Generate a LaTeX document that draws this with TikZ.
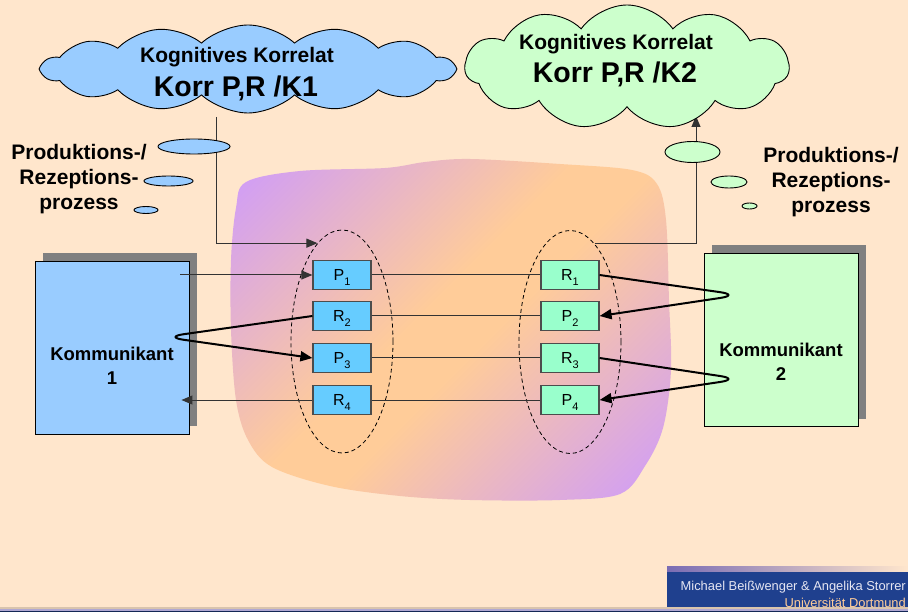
\documentclass[tikz,border=0pt]{standalone}
\usepackage{fontspec}
\setmainfont{Liberation Sans}
\usetikzlibrary{arrows.meta,calc,positioning,shapes.geometric,shapes.symbols,shadows}

\definecolor{bgpeach}{HTML}{FFE6CC}
\definecolor{cloudblue}{HTML}{99CCFF}
\definecolor{cloudgreen}{HTML}{CCFFCC}
\definecolor{boxblue}{HTML}{66CCFF}
\definecolor{boxmint}{HTML}{99FFCC}
\definecolor{blobpurple}{HTML}{CC99FF}
\definecolor{bloborange}{HTML}{FFCC99}
\definecolor{shadowgray}{HTML}{808080}
\definecolor{footblue}{HTML}{1F408E}
\definecolor{footlav}{HTML}{7A6CB4}
\definecolor{footwhite}{HTML}{E6E6F2}
\definecolor{footorange}{HTML}{FFCC99}

\pgfdeclarehorizontalshading{blobshading}{100bp}{color(0bp)=(blobpurple); color(14bp)=(blobpurple); color(46bp)=(bloborange); color(54bp)=(bloborange); color(86bp)=(blobpurple); color(100bp)=(blobpurple)}

\newcommand{\lowidx}[1]{\raisebox{-4.5pt}{\fontsize{11}{11}\selectfont #1}}

\begin{document}
\begin{tikzpicture}[x=1pt,y=-1pt,
    thinline/.style={draw=black!80,line width=1pt},
    tipped/.style={-{Triangle[length=11pt,width=9pt]}},
    loopline/.style={draw=black,line width=2pt,rounded corners=20pt,-{Triangle[length=12pt,width=10pt]}},
    smallbox/.style={draw=black!70,line width=1.2pt,minimum width=58pt,minimum height=29pt,
      inner sep=0pt,text height=11.5pt,text depth=0pt,font=\fontsize{16}{18}\selectfont},
    kommbox/.style={draw=black,line width=0.9pt,minimum width=154pt,minimum height=173pt,inner sep=0pt,
      drop shadow={shadow xshift=8pt,shadow yshift=8pt,opacity=1,fill=shadowgray}},
    kommtext/.style={align=center,font=\bfseries\fontsize{18.5}{24}\selectfont},
    sidetext/.style={align=center,font=\bfseries\fontsize{21}{25}\selectfont},
    cloudbox/.style={cloud,cloud ignores aspect,draw=black,line width=0.9pt,inner sep=0pt},
    bubble/.style={ellipse,draw=black,line width=0.9pt,inner sep=0pt},
    grouping/.style={ellipse,draw=black,line width=0.8pt,dash pattern=on 4pt off 3pt,inner sep=0pt,
      minimum width=102pt,minimum height=223pt}]
  \useasboundingbox (0,0) rectangle (908,612);
  \fill[bgpeach] (0,0) rectangle (908,612);

  % --- shared situation (blob) ---
  \shade[shading=blobshading,shading angle=-45]
    plot[smooth cycle,tension=0.55] coordinates {(246,182) (300,171) (385,168) (425,162) (470,159)
      (560,164) (632,170) (657,184) (666,220) (669,300) (671,370) (663,428) (645,466) (620,494)
      (560,500) (470,500) (400,496) (330,486) (272,467) (248,440) (236,400) (231,330) (231,260)
      (236,208)};

  % --- groupings ---
  \node[grouping] (ellL) at (342,341.5) {};
  \node[grouping] (ellR) at (570,342) {};

  % --- communicants ---
  \node[kommbox,fill=cloudblue] (komm1) at (112,347.5) {};
  \node[kommtext] (komm1lab) at (112,366) {Kommunikant\\1};
  \node[kommbox,fill=cloudgreen] (komm2) at (781,340) {};
  \node[kommtext] (komm2lab) at (781,362) {Kommunikant\\2};

  % --- utterances ---
  \foreach \nm/\ltr/\k/\yy in {lp1/P/1/275,lr2/R/2/316,lp3/P/3/358,lr4/R/4/400}
    \node[smallbox,fill=boxblue] (\nm) at (342,\yy) {\ltr\lowidx{\k}};
  \foreach \nm/\ltr/\k/\yy in {rr1/R/1/275,rp2/P/2/316,rr3/R/3/358,rp4/P/4/400}
    \node[smallbox,fill=boxmint] (\nm) at (570,\yy) {\ltr\lowidx{\k}};

  % --- connectors ---
  \draw[thinline,tipped] ($(komm1.east |- lp1)+(-9,0)$) -- (lp1.west);
  \draw[thinline] (lp1) -- (rr1);
  \draw[thinline] (lr2) -- (rp2);
  \draw[thinline] (lp3) -- (rr3);
  \draw[thinline] (lr4) -- (rp4);
  \draw[thinline,tipped] (lr4.west) -- ($(komm1.east |- lr4)+(-8,0)$);
  \coordinate (turnA) at (740,295);
  \coordinate (turnB) at (164,337);
  \coordinate (turnC) at (740,379);
  \draw[loopline] (rr1.east) -- (turnA) -- (rp2.east);
  \draw[loopline] (lr2.west) -- (turnB) -- (lp3.west);
  \draw[loopline] (rr3.east) -- (turnC) -- (rp4.east);

  \coordinate (corrAfoot) at (216,117);
  \coordinate (corrBfoot) at (696,116);
  \draw[thinline,tipped] (corrAfoot) |- (ellL.104);
  \draw[thinline,tipped] (ellR.76) -| (corrBfoot);

  % --- cognitive correlates ---
  \node[cloudbox,fill=cloudblue,cloud puffs=14,cloud puff arc=85,minimum width=412pt,minimum height=88pt]
    (cloudA) at (248,69) {};
  \node[cloudbox,fill=cloudgreen,cloud puffs=11,cloud puff arc=110,minimum width=324pt,minimum height=124pt]
    (cloudB) at (627,67) {};
  \node[font=\bfseries\fontsize{21}{24}\selectfont,text height=15pt,text depth=0pt] (corrAtop) at (237,55.5) {Kognitives Korrelat};
  \node[font=\bfseries\fontsize{28.5}{32}\selectfont,text height=20.4pt,text depth=0pt] (corrAmain) at (236,86.5) {Korr P,R /K1};
  \node[font=\bfseries\fontsize{21}{24}\selectfont,text height=15pt,text depth=0pt] (corrBtop) at (616,42.5) {Kognitives Korrelat};
  \node[font=\bfseries\fontsize{28.5}{32}\selectfont,text height=20.4pt,text depth=0pt] (corrBmain) at (615,72.5) {Korr P,R /K2};

  % --- thought bubbles ---
  \node[bubble,fill=cloudblue,minimum width=72pt,minimum height=15pt] (bubA1) at (194,146.5) {};
  \node[bubble,fill=cloudblue,minimum width=49pt,minimum height=10pt] (bubA2) at (168.5,181) {};
  \node[bubble,fill=cloudblue,minimum width=24pt,minimum height=7pt] (bubA3) at (146,210) {};
  \node[bubble,fill=cloudgreen,minimum width=55pt,minimum height=21pt] (bubB1) at (692.5,152) {};
  \node[bubble,fill=cloudgreen,minimum width=36pt,minimum height=12pt] (bubB2) at (729,182) {};
  \node[bubble,fill=cloudgreen,minimum width=15pt,minimum height=6pt] (bubB3) at (749.5,206) {};
  \node[sidetext] (procA) at (79,179) {Produktions-/\\Rezeptions-\\prozess};
  \node[sidetext] (procB) at (831,182) {Produktions-/\\Rezeptions-\\prozess};

  % --- footer ---
  \shade[left color=footlav,right color=bgpeach] (667,566) rectangle (908,572);
  \fill[footblue] (667,572) rectangle (908,607);
  \node[anchor=north east,align=right,inner sep=0pt,text=footwhite,font=\fontsize{12.9}{16.5}\selectfont]
    (footnames) at (906,581) {Michael Beißwenger \& Angelika Storrer\\\textcolor{footorange}{Universität Dortmund}};
  \fill[black!15!bgpeach] (0,607) rectangle (908,609);
  \fill[footlav!60!white] (0,609) rectangle (908,610.5);
  \fill[footblue!60!black] (0,610.5) rectangle (908,612);
\end{tikzpicture}
\end{document}
